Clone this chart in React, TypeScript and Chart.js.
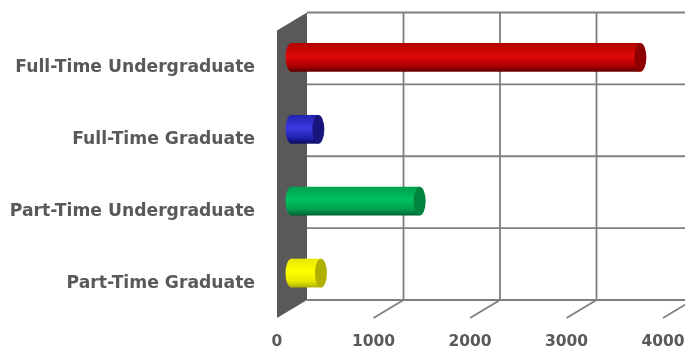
import React, { useEffect, useRef } from "react";
import { Chart, registerables } from "chart.js";

Chart.register(...registerables);

const categories = ["Full-Time Undergraduate", "Full-Time Graduate", "Part-Time Undergraduate", "Part-Time Graduate"];
const values = [3615, 278, 1328, 305];
const xTicks = [0, 1000, 2000, 3000, 4000];
// top edge, highlight, lower edge, cap
const barShades = [
  ["#b00000", "#e00a0a", "#5c0000", "#8e0000"],
  ["#2222b0", "#3a3ae0", "#0c0c60", "#16167c"],
  ["#00a050", "#00c060", "#006030", "#00843e"],
  ["#e8e800", "#ffff00", "#b0b000", "#b0b000"],
];

const DEPTH_X = 30;
const DEPTH_Y = 18;
const CAP_RX = 6;

const barGradient = (ctx: CanvasRenderingContext2D, top: number, bottom: number, s: string[]) => {
  const g = ctx.createLinearGradient(0, top, 0, bottom);
  g.addColorStop(0, s[0]);
  g.addColorStop(0.45, s[1]);
  g.addColorStop(0.78, s[0]);
  g.addColorStop(1, s[2]);
  return g;
};

const wallPlugin = {
  id: "wall",
  beforeDatasetsDraw(chart: any) {
    const { ctx, chartArea: a, scales } = chart;
    const canvasW = chart.width;
    ctx.save();
    // back-wall grid
    ctx.strokeStyle = "#7f7f7f";
    ctx.lineWidth = 1.8;
    const backTop = a.top - DEPTH_Y;
    const backBottom = a.bottom - DEPTH_Y;
    xTicks.forEach((t) => {
      const x = scales.x.getPixelForValue(t);
      if (t > 0) {
        ctx.beginPath();
        ctx.moveTo(x + DEPTH_X, backTop);
        ctx.lineTo(x + DEPTH_X, backBottom);
        ctx.stroke();
        ctx.beginPath();
        ctx.moveTo(x + DEPTH_X, backBottom);
        ctx.lineTo(x, a.bottom);
        ctx.stroke();
      }
    });
    for (let i = 0; i <= categories.length; i++) {
      const y = backTop + ((backBottom - backTop) * i) / categories.length;
      ctx.beginPath();
      ctx.moveTo(a.left + DEPTH_X, y);
      ctx.lineTo(canvasW, y);
      ctx.stroke();
    }
    // side wall
    ctx.fillStyle = "#595959";
    ctx.beginPath();
    ctx.moveTo(a.left, a.top);
    ctx.lineTo(a.left + DEPTH_X, backTop);
    ctx.lineTo(a.left + DEPTH_X, backBottom);
    ctx.lineTo(a.left, a.bottom);
    ctx.closePath();
    ctx.fill();
    ctx.restore();
    // bars sit half way into the depth
    ctx.save();
    ctx.translate(DEPTH_X / 2 - 0.5, -DEPTH_Y / 2);
    // rounded near end of each cylinder
    chart.getDatasetMeta(0).data.forEach((bar: any, i: number) => {
      const p = bar.getProps(["x", "y", "base", "height"], true);
      const top = p.y - p.height / 2;
      const bottom = p.y + p.height / 2;
      ctx.fillStyle = barGradient(ctx, top, bottom, barShades[i]);
      ctx.beginPath();
      ctx.ellipse(p.base, p.y, CAP_RX, p.height / 2, 0, 0, Math.PI * 2);
      ctx.fill();
    });
  },
  afterDatasetsDraw(chart: any) {
    const { ctx } = chart;
    // visible far end of each cylinder
    chart.getDatasetMeta(0).data.forEach((bar: any, i: number) => {
      const p = bar.getProps(["x", "y", "height"], true);
      ctx.fillStyle = barShades[i][3];
      ctx.beginPath();
      ctx.ellipse(p.x, p.y, CAP_RX, p.height / 2, 0, 0, Math.PI * 2);
      ctx.fill();
    });
    ctx.restore();
  },
};

export default function App() {
  const ref = useRef<HTMLCanvasElement>(null);
  useEffect(() => {
    document.body.style.margin = "0";
    const family = "'DejaVu Sans', sans-serif";
    const chart = new Chart(ref.current!, {
      type: "bar",
      plugins: [wallPlugin],
      data: {
        labels: categories,
        datasets: [
          {
            data: values,
            clip: false as any,
            categoryPercentage: 1,
            barPercentage: 0.4,
            borderWidth: 0,
            backgroundColor: (c: any) => {
              const s = barShades[c.dataIndex];
              const area = c.chart.chartArea;
              if (!area) return s[1];
              const y = c.chart.scales.y.getPixelForValue(c.dataIndex);
              return barGradient(c.chart.ctx, y - 14.4, y + 14.4, s);
            },
          },
        ],
      },
      options: {
        indexAxis: "y",
        responsive: false,
        animation: false,
        layout: { padding: { top: 30.5, right: 22, left: 0, bottom: 0 } },
        plugins: { legend: { display: false }, tooltip: { enabled: false } },
        scales: {
          x: {
            min: 0,
            max: 4000,
            afterFit: (s: any) => { s.height = 31; s.paddingRight = 0; s.paddingLeft = 0; },
            afterBuildTicks: (s: any) => { s.ticks = xTicks.map((value) => ({ value })); },
            grid: { display: false },
            border: { display: false },
            ticks: { font: { family, size: 15.5, weight: "bold" as const }, color: "#595959", padding: 7, maxRotation: 0, autoSkip: false, callback: (v: any) => String(v) },
          },
          y: {
            afterFit: (s: any) => { s.width = 277; },
            grid: { display: false },
            border: { display: false },
            ticks: { font: { family, size: 17.2, weight: "bold" as const }, color: "#595959", padding: 14, labelOffset: 1.5, autoSkip: false },
          },
        },
      },
    });
    return () => chart.destroy();
  }, []);
  return <canvas ref={ref} width={685} height={349} style={{ display: "block", width: 685, height: 349, filter: "blur(0.6px)" }} />;
}
